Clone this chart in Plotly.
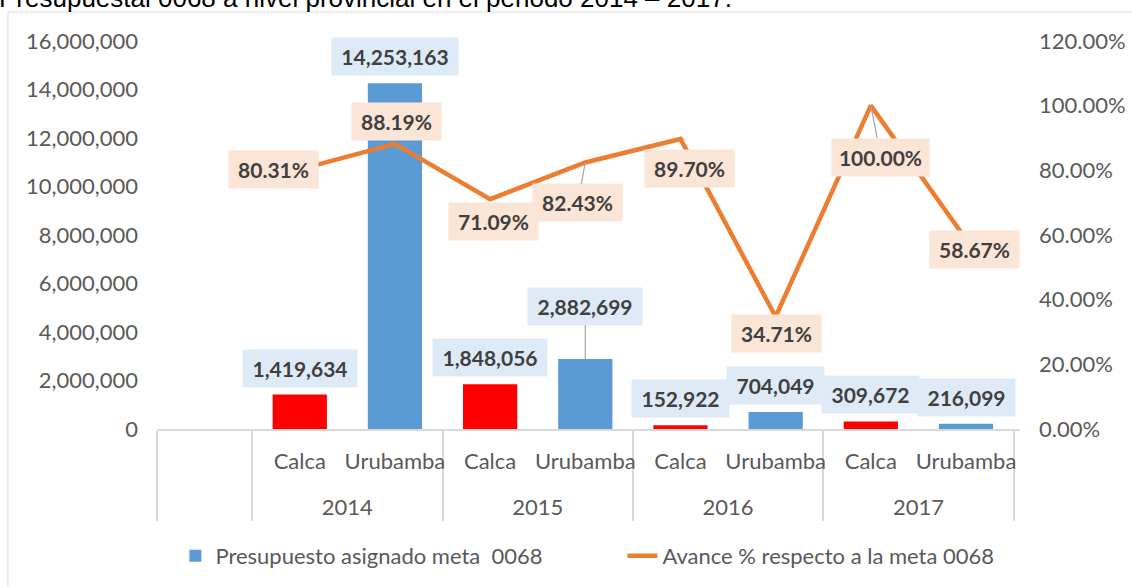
import plotly.graph_objects as go

# ---- data ----
years = [" ", "2014", "2014", "2015", "2015", "2016", "2016", "2017", "2017"]
provinces = [" ", "Calca", "Urubamba", "Calca", "Urubamba", "Calca", "Urubamba", "Calca", "Urubamba"]
presupuesto = [None, 1419634, 14253163, 1848056, 2882699, 152922, 704049, 309672, 216099]
avance_pct = [None, 80.31, 88.19, 71.09, 82.43, 89.70, 34.71, 100.00, 58.67]

left_ticks = [0, 2000000, 4000000, 6000000, 8000000, 10000000, 12000000, 14000000, 16000000]
right_ticks = [0, 0.2, 0.4, 0.6, 0.8, 1.0, 1.2]

title_text = "Presupuestal 0068 a nivel provincial en el periodo 2014 – 2017."
bar_name = "Presupuesto asignado meta  0068"
line_name = "Avance % respecto a la meta 0068"

# ---- styles ----
BLUE = "#5B9BD5"
RED = "#FF0000"
ORANGE = "#ED7D31"
TXT = "#595959"
LBL = "#404040"
FONT = "Lato"
BOX_W = {6: 77, 7: 85, 9: 102, 10: 114}   # label box inner widths by text length

bar_colors = [RED if p == "Calca" else BLUE for p in provinces]
avance = [None if v is None else v / 100 for v in avance_pct]
# year row is drawn one line lower (as in the original two-level axis)
year_labels = ["<br>" + y for y in years]
xcats = [year_labels, provinces]

fig = go.Figure()
fig.add_trace(go.Bar(
    x=xcats, y=presupuesto, name=bar_name,
    marker=dict(color=bar_colors, line=dict(width=0)),
    width=0.57, yaxis="y", legend="legend",
))
fig.add_trace(go.Scatter(
    x=xcats, y=avance, name=line_name, mode="lines",
    line=dict(color=ORANGE, width=4.5), yaxis="y2", legend="legend2",
))


def label(i, y, yref, text, bg, dx, dy, leader):
    a = dict(x=i, y=y, xref="x", yref=yref, text=text,
             font=dict(family=FONT, size=21, color=LBL, weight="bold"),
             bgcolor=bg, borderpad=6, width=BOX_W.get(len(text)))
    if leader:
        a.update(showarrow=True, ax=dx, ay=dy, axref="pixel", ayref="pixel",
                 arrowhead=0, arrowwidth=1.2, arrowcolor="#A6A6A6")
    else:
        a.update(showarrow=False, xshift=dx, yshift=-dy)
    return a


annotations = []
bar_offsets = {4: (0, -53, True)}
for i, v in enumerate(presupuesto):
    if v is None:
        continue
    dx, dy, leader = bar_offsets.get(i, (0, -26.5, False))
    annotations.append(label(i, v, "y", f"{v:,}", "#DEEBF7", dx, dy, leader))

line_offsets = {1: (-26, 0, False), 2: (2, -22, False), 3: (3, 22, False),
                4: (-7.5, 40.5, True), 5: (9, 30, False), 6: (1, 16.5, False),
                7: (10, 51.5, True), 8: (8.5, 10, False)}
for i, v in enumerate(avance_pct):
    if v is None:
        continue
    dx, dy, leader = line_offsets[i]
    annotations.append(label(i, v / 100, "y2", f"{v:.2f}%", "#FBE5D6", dx, dy, leader))

# cut-off caption at the top
annotations.append(dict(x=-0.1854, y=1.0670, xref="paper", yref="paper",
                        xanchor="left", yanchor="bottom", showarrow=False,
                        text=title_text,
                        font=dict(family="Liberation Sans", size=26, color="#000000")))

legend_style = dict(orientation="h", xanchor="left", y=-0.327, yanchor="middle",
                    font=dict(family=FONT, size=22, color=TXT), bgcolor="rgba(0,0,0,0)")

fig.update_layout(
    width=1132, height=587,
    margin=dict(l=157, r=112, t=41, b=158, autoexpand=False),
    paper_bgcolor="white", plot_bgcolor="white",
    font=dict(family=FONT, size=22, color=TXT),
    showlegend=True,
    legend=dict(x=0.0213, **legend_style),
    legend2=dict(x=0.5393, **legend_style),
    xaxis=dict(type="multicategory", showline=True, linecolor="#D9D9D9", linewidth=1.5,
               showgrid=False, ticks="", showdividers=True, dividercolor="#D9D9D9",
               dividerwidth=1.5, tickangle=0, automargin=False, ticklabelstandoff=12,
               tickfont=dict(family=FONT, size=22, color=TXT)),
    yaxis=dict(range=[0, 16000000], tickvals=left_ticks, tickformat=",", showgrid=False,
               zeroline=False, showline=False, ticks="", ticklabelstandoff=18,
               automargin=False, tickfont=dict(family=FONT, size=22, color=TXT)),
    yaxis2=dict(range=[0, 1.2], tickvals=right_ticks, tickformat=".2%", overlaying="y",
                side="right", showgrid=False, zeroline=False, showline=False, ticks="",
                ticklabelstandoff=18, automargin=False,
                tickfont=dict(family=FONT, size=22, color=TXT)),
    annotations=annotations,
    shapes=[dict(type="rect", xref="paper", yref="paper", x0=-0.1727, x1=1.139,
                 y0=1.0747, y1=-0.4407, line=dict(color="#D9D9D9", width=1),
                 fillcolor="rgba(0,0,0,0)", layer="below")],
)

fig.write_html("out.html", config={"displayModeBar": False},
               post_script="document.body.style.margin='0';")
